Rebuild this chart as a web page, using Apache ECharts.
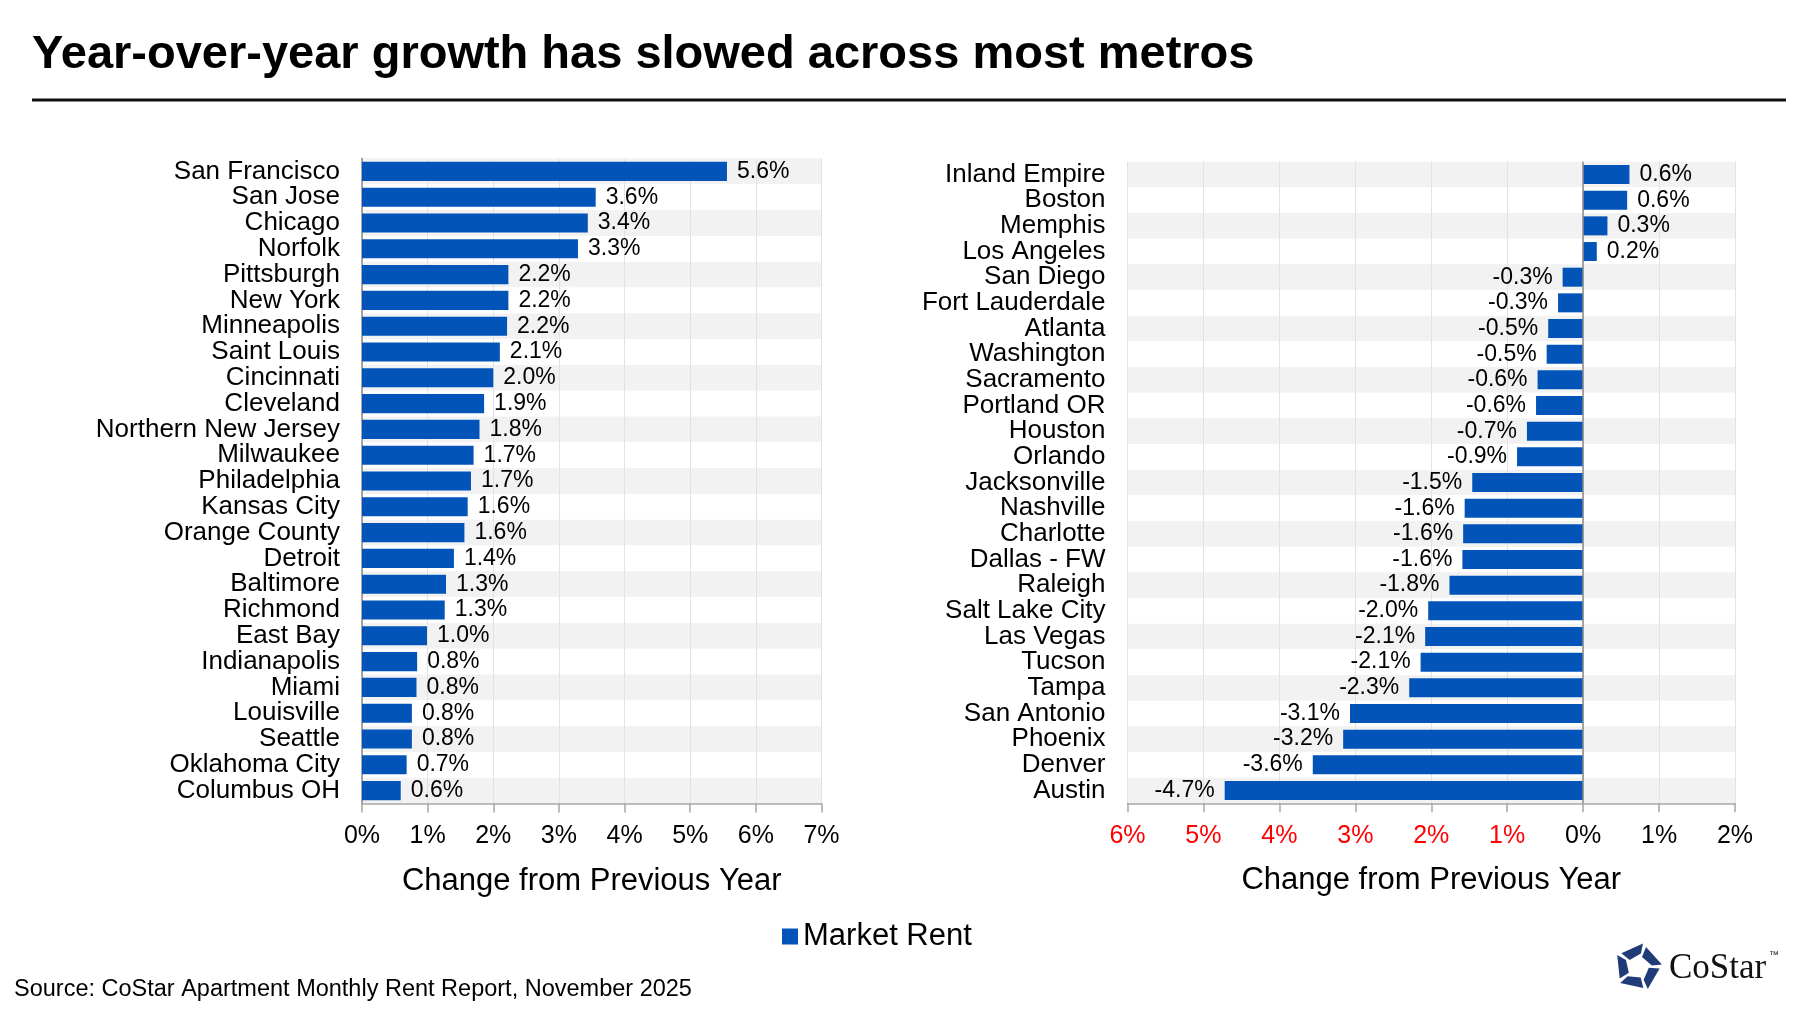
<!DOCTYPE html>
<html><head><meta charset="utf-8">
<script src="https://cdn.jsdelivr.net/npm/echarts@6/dist/echarts.min.js"></script>
<style>html,body{margin:0;padding:0;background:#fff}#c{width:1800px;height:1013px}</style>
</head><body><div id="c"></div>
<script>
// ---- data ----
const leftCities = ['San Francisco','San Jose','Chicago','Norfolk','Pittsburgh','New York','Minneapolis','Saint Louis','Cincinnati','Cleveland','Northern New Jersey','Milwaukee','Philadelphia','Kansas City','Orange County','Detroit','Baltimore','Richmond','East Bay','Indianapolis','Miami','Louisville','Seattle','Oklahoma City','Columbus OH'];
const leftValues = [5.56,3.56,3.44,3.29,2.23,2.23,2.21,2.10,2.00,1.86,1.79,1.70,1.66,1.61,1.56,1.40,1.28,1.26,0.99,0.84,0.83,0.76,0.76,0.68,0.59];
const rightCities = ['Inland Empire','Boston','Memphis','Los Angeles','San Diego','Fort Lauderdale','Atlanta','Washington','Sacramento','Portland OR','Houston','Orlando','Jacksonville','Nashville','Charlotte','Dallas - FW','Raleigh','Salt Lake City','Las Vegas','Tucson','Tampa','San Antonio','Phoenix','Denver','Austin'];
const rightValues = [0.61,0.58,0.32,0.18,-0.27,-0.33,-0.46,-0.48,-0.60,-0.62,-0.74,-0.87,-1.46,-1.56,-1.58,-1.59,-1.76,-2.04,-2.08,-2.14,-2.29,-3.07,-3.16,-3.56,-4.72];
const leftAxisRange = [0, 7];
const rightAxisRange = [-6, 2];
const seriesName = 'Market Rent';
const axisTitle = 'Change from Previous Year';
const titleText = 'Year-over-year growth has slowed across most metros';
const sourceText = 'Source: CoStar Apartment Monthly Rent Report, November 2025';

// ---- styles ----
const FONT = '"Liberation Sans", Arial, Helvetica, sans-serif';
const BLUE = '#0254B8';
const fmt = v => (Math.round(v * 10) / 10).toFixed(1);

function yAxisCfg(idx, cats, showLine) {
  return {
    type: 'category', gridIndex: idx, data: cats, inverse: true,
    axisLine: { show: showLine, onZero: false, lineStyle: { color: '#8a8a8a', width: 1.5 } },
    axisTick: { show: false },
    axisLabel: { interval: 0, fontSize: 26, color: '#000', fontFamily: FONT, margin: 22 },
    splitArea: { show: true, interval: 0, areaStyle: { color: ['#f2f2f2', '#ffffff'] } },
    splitLine: { show: false }
  };
}
function xAxisCfg(idx, range, colorFn) {
  return {
    type: 'value', gridIndex: idx, min: range[0], max: range[1], interval: 1,
    axisLine: { show: true, lineStyle: { color: '#a6a6a6', width: 1.5 } },
    axisTick: { show: true, length: 9, lineStyle: { color: '#a6a6a6', width: 1.5 } },
    axisLabel: {
      fontSize: 25, fontFamily: FONT, margin: 20,
      color: colorFn,
      formatter: v => Math.abs(v) + '%'
    },
    splitLine: { show: true, lineStyle: { color: '#e2e2e2', width: 1 } },
    name: axisTitle, nameLocation: 'middle', nameGap: 62,
    nameTextStyle: { fontSize: 31, color: '#000', fontFamily: FONT }
  };
}

const chart = echarts.init(document.getElementById('c'));

// logo pieces
const cx = 1638, cy = 967, R = 24;
const lerp = (p, q, t) => [p[0] + (q[0] - p[0]) * t, p[1] + (q[1] - p[1]) * t];
const logoPieces = [];
for (let k = 0; k < 5; k++) {
  const a0 = (-90 + 72 * k + 12) * Math.PI / 180, a1 = (-90 + 72 * (k + 1) + 12) * Math.PI / 180;
  const V0 = [cx + R * Math.cos(a0), cy + R * Math.sin(a0)];
  const V1 = [cx + R * Math.cos(a1), cy + R * Math.sin(a1)];
  const C = [cx, cy];
  logoPieces.push({
    type: 'polygon',
    shape: { points: [lerp(V0, V1, 0.16), V1, lerp(V1, C, 0.42), lerp(lerp(V0, V1, 0.16), C, 0.5)] },
    style: { fill: '#1f3b78' }
  });
}

chart.setOption({
  animation: false,
  textStyle: { fontFamily: FONT },
  grid: [
    { left: 362, right: 1800 - 821.5, top: 158.5, bottom: 1013 - 803.5, containLabel: false },
    { left: 1127.5, right: 1800 - 1735, top: 161.7, bottom: 1013 - 803.3, containLabel: false }
  ],
  legend: {
    data: [seriesName], left: 777, top: 916, icon: 'rect', itemWidth: 16, itemHeight: 16,
    textStyle: { fontSize: 31, color: '#000', fontFamily: FONT }
  },
  xAxis: [
    xAxisCfg(0, leftAxisRange, () => '#000'),
    xAxisCfg(1, rightAxisRange, (v) => (Number(v) < 0 ? '#ff0000' : '#000'))
  ],
  yAxis: [yAxisCfg(0, leftCities, true), yAxisCfg(1, rightCities, false)],
  series: [
    {
      name: seriesName, type: 'bar', xAxisIndex: 0, yAxisIndex: 0,
      data: leftValues, barCategoryGap: '26%',
      itemStyle: { color: BLUE },
      label: { show: true, position: 'right', distance: 10, fontSize: 23, color: '#000', fontFamily: FONT,
        formatter: p => fmt(p.value) + '%' }
    },
    {
      name: seriesName, type: 'bar', xAxisIndex: 1, yAxisIndex: 1,
      data: rightValues.map(v => ({ value: v, label: { position: v < 0 ? 'left' : 'right' } })),
      barCategoryGap: '26%',
      itemStyle: { color: BLUE },
      label: { show: true, distance: 10, fontSize: 23, color: '#000', fontFamily: FONT,
        formatter: p => fmt(p.value) + '%' },
      markLine: {
        silent: true, symbol: 'none', label: { show: false },
        lineStyle: { color: '#8a8a8a', type: 'solid', width: 1.5 },
        data: [{ xAxis: 0 }]
      }
    }
  ],
  graphic: [
    { type: 'text', left: 32, top: 32, style: { text: titleText, fontSize: 47, fontWeight: 'bold', fill: '#000', fontFamily: FONT } },
    { type: 'line', shape: { x1: 32, y1: 100, x2: 1786, y2: 100 }, style: { stroke: '#111', lineWidth: 3 } },
    { type: 'text', left: 14, top: 978, style: { text: sourceText, fontSize: 23.5, fill: '#000', fontFamily: FONT } },
    ...logoPieces,
    { type: 'text', x: 1669, y: 969, style: { text: 'CoStar', fontSize: 35, fill: '#111', fontFamily: '"Liberation Serif", "DejaVu Serif", serif', verticalAlign: 'middle' } },
    { type: 'text', x: 1769, y: 955, style: { text: '™', fontSize: 10, fill: '#111', fontFamily: FONT, verticalAlign: 'middle' } }
  ]
});
</script></body></html>
